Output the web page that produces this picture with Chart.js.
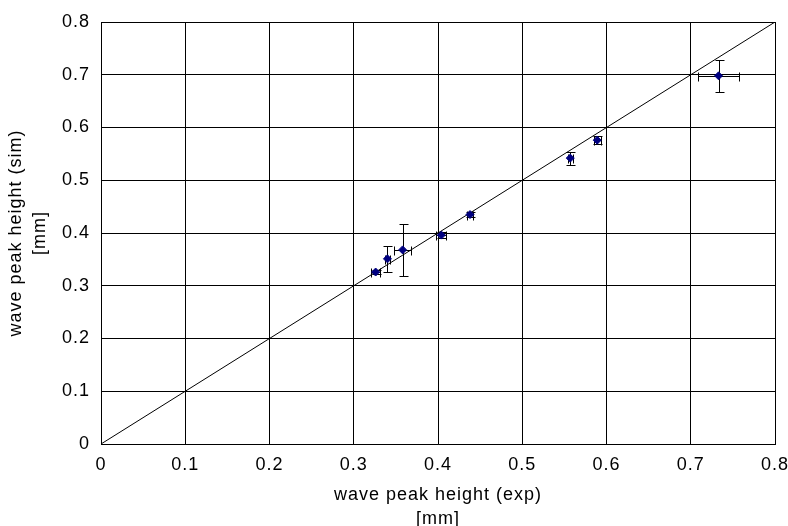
<!DOCTYPE html>
<html>
<head>
<meta charset="utf-8">
<script src="https://cdn.jsdelivr.net/npm/chart.js@4/dist/chart.umd.min.js"></script>
<style>
  html, body { margin: 0; padding: 0; background: #fff; }
  #wrap { width: 788px; height: 526px; }
</style>
</head>
<body>
<div id="wrap"><canvas id="chart" width="788" height="526"></canvas></div>
<script>
// measured peak heights (mm)
const expVals = [0.326, 0.340, 0.358, 0.404, 0.438, 0.557, 0.589, 0.733];
const simVals = [0.326, 0.351, 0.368, 0.396, 0.435, 0.542, 0.576, 0.698];
// error bars (+/-)
const expErr = [0.005, 0.003, 0.010, 0.006, 0.003, 0.003, 0.004, 0.024];
const simErr = [0.004, 0.025, 0.050, 0.006, 0.005, 0.0125, 0.007, 0.030];
// y = x reference line
const refLine = [0, 0.8];
const tickLabels = ["0", "0.1", "0.2", "0.3", "0.4", "0.5", "0.6", "0.7", "0.8"];

const points = expVals.map((x, i) => ({ x: x, y: simVals[i] }));

// draws the error bars through the scales
const errorBars = {
    id: "errorBars",
    beforeDraw(chart) {
        // old-style wide lettering
        chart.ctx.letterSpacing = "1px";
    },
    beforeDatasetsDraw(chart) {
        const ctx = chart.ctx;
        const xs = chart.scales.x;
        const ys = chart.scales.y;
        ctx.save();
        ctx.strokeStyle = "#000";
        ctx.lineWidth = 1;
        ctx.beginPath();
        expVals.forEach((x, i) => {
            const y = simVals[i];
            const px = Math.round(xs.getPixelForValue(x)) + 0.5;
            const py = Math.round(ys.getPixelForValue(y)) + 0.5;
            // vertical
            const top = Math.round(ys.getPixelForValue(y + simErr[i])) + 0.5;
            const bot = Math.round(ys.getPixelForValue(y - simErr[i])) + 0.5;
            ctx.moveTo(px, top); ctx.lineTo(px, bot);
            ctx.moveTo(px - 4, top); ctx.lineTo(px + 5, top);
            ctx.moveTo(px - 4, bot); ctx.lineTo(px + 5, bot);
            // horizontal
            const l = Math.round(xs.getPixelForValue(x - expErr[i])) + 0.5;
            const r = Math.round(xs.getPixelForValue(x + expErr[i])) + 0.5;
            ctx.moveTo(l, py); ctx.lineTo(r, py);
            ctx.moveTo(l, py - 4); ctx.lineTo(l, py + 5);
            ctx.moveTo(r, py - 4); ctx.lineTo(r, py + 5);
        });
        ctx.stroke();
        ctx.restore();
    }
};

const font = { family: "'Liberation Sans', Arial, sans-serif", size: 18 };
const titleFont = { family: "'Liberation Sans', Arial, sans-serif", size: 18, lineHeight: 1.333 };

function noPad(scale) {
    scale.paddingLeft = 0;
    scale.paddingRight = 0;
    scale.paddingTop = 0;
    scale.paddingBottom = 0;
}

new Chart(document.getElementById("chart"), {
    type: "scatter",
    data: {
        datasets: [
            {
                label: "sim vs exp",
                data: points,
                pointStyle: "rectRot",
                pointRadius: 4,
                pointBackgroundColor: "#000080",
                pointBorderColor: "#000080",
                borderWidth: 1,
                order: 0
            },
            {
                type: "line",
                label: "y = x",
                data: refLine.map(v => ({ x: v, y: v })),
                borderColor: "#000",
                borderWidth: 1,
                pointRadius: 0,
                fill: false,
                order: 1
            }
        ]
    },
    options: {
        responsive: false,
        animation: false,
        layout: { padding: { top: 22, right: 13, left: 0, bottom: 0 } },
        plugins: {
            legend: { display: false },
            tooltip: { enabled: false }
        },
        scales: {
            x: {
                type: "linear",
                min: 0,
                max: 0.8,
                afterFit(scale) { scale.height = 82; noPad(scale); },
                ticks: {
                    stepSize: 0.1,
                    color: "#000",
                    font: font,
                    padding: 10,
                    maxRotation: 0,
                    callback: (v, i) => tickLabels[i]
                },
                grid: { color: "#000", lineWidth: 1, drawTicks: false },
                border: { color: "#000", width: 1 },
                title: {
                    display: true,
                    text: ["wave peak height (exp)", "[mm]"],
                    color: "#000",
                    font: titleFont,
                    padding: { top: 0, bottom: -5 }
                }
            },
            y: {
                type: "linear",
                min: 0,
                max: 0.8,
                afterFit(scale) { scale.width = 101; noPad(scale); },
                ticks: {
                    stepSize: 0.1,
                    color: "#000",
                    font: font,
                    padding: 11,
                    callback: (v, i) => tickLabels[i]
                },
                grid: { color: "#000", lineWidth: 1, drawTicks: false },
                border: { color: "#000", width: 1 },
                title: {
                    display: true,
                    text: ["wave peak height (sim)", "[mm]"],
                    color: "#000",
                    font: titleFont,
                    padding: { top: 4, bottom: 0 }
                }
            }
        }
    },
    plugins: [errorBars]
});
</script>
</body>
</html>
